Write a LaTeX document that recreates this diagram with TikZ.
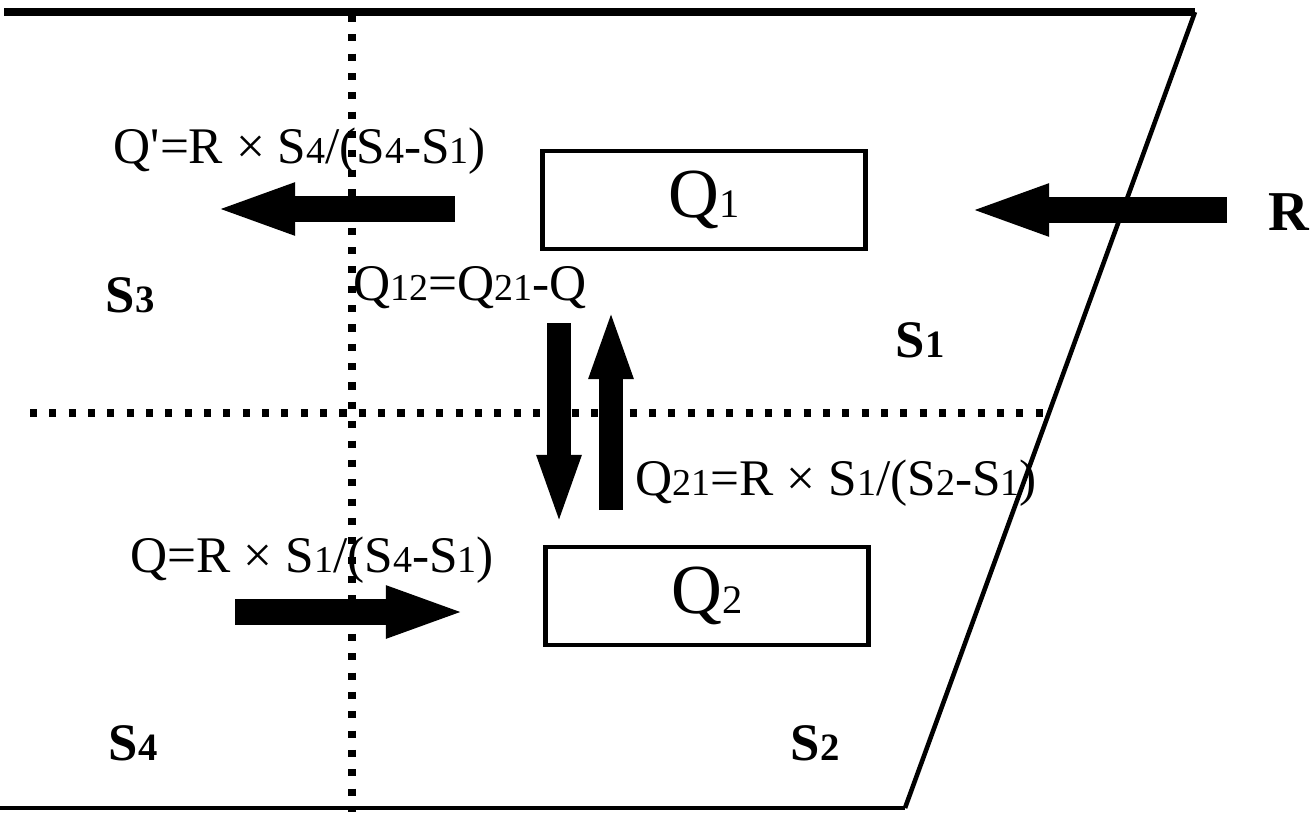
\documentclass[tikz,border=0pt]{standalone}
\usepackage{fontspec}
\setmainfont{LiberationSerif}[Extension=.ttf,UprightFont=*-Regular,BoldFont=*-Bold,ItalicFont=*-Italic,BoldItalicFont=*-BoldItalic]
\usetikzlibrary{arrows.meta}

\newcommand{\sub}[2][10.8]{{\fontsize{#1}{#1}\selectfont #2}}

\begin{document}
\begin{tikzpicture}[x=0.01cm,y=-0.01cm,
 box/.style={draw,line width=1.4pt,minimum width=3.22cm,minimum height=0.98cm,font=\rmfamily\fontsize{20}{20}\selectfont},
 lbl/.style={inner sep=0pt,anchor=base west,font=\rmfamily\fontsize{14.6}{14.6}\selectfont},
 zone/.style={inner sep=0pt,anchor=base west,font=\rmfamily\fontsize{15}{15}\selectfont\bfseries},
 grid/.style={line width=2pt,dash pattern=on 2pt off 3.5pt},
 flow/.style={line width=7.3pt,-{Triangle[length=8.2mm,width=4.6mm]}},
 vflow/.style={line width=6.6pt,-{Triangle[length=7.2mm,width=3.9mm]}}]
\useasboundingbox[fill=white] (0,0) rectangle (1315,812);
% channel outline
\draw[line width=2pt] (4,12) -- (1195,12);
\draw[line width=1.3pt] (1195,12) -- (905,808);
\draw[line width=1.4pt] (0,808) -- (905,808);
\draw[grid] (352,15) -- (352,812);
\draw[grid] (30,413) -- (1050,413);
% boxes
\node[box] (Q1) at (704,200) {Q\sub[11.5]{1}};
\node[box] (Q2) at (707,596) {Q\sub[11.5]{2}};
% zone labels
\node[zone] (S3) at (105,312) {S\sub[11]{3}};
\node[zone] (S1) at (895,357) {S\sub[11]{1}};
\node[zone] (S4) at (108,760) {S\sub[11]{4}};
\node[zone] (S2) at (790,760) {S\sub[11]{2}};
\node[zone,font=\rmfamily\fontsize{16}{16}\selectfont\bfseries] (R) at (1268,230) {R};
% flow labels
\node[lbl] (qout) at (113,163) {Q\textquotesingle=R × S\sub{4}/(S\sub{4}-S\sub{1})};
\node[lbl] (q12) at (353,300) {Q\sub{12}=Q\sub{21}-Q};
\node[lbl] (q21) at (635,495) {Q\sub{21}=R × S\sub{1}/(S\sub{2}-S\sub{1})};
\node[lbl] (qin) at (130,572) {Q=R × S\sub{1}/(S\sub{4}-S\sub{1})};
% flows
\coordinate (qoS) at (455,209); \coordinate (qoE) at (213,209);
\coordinate (rS) at (1227,210); \coordinate (rE) at (967,210);
\coordinate (dnS) at (559,323); \coordinate (dnE) at (559,527);
\coordinate (upS) at (611,510); \coordinate (upE) at (611,307);
\coordinate (inS) at (235,612); \coordinate (inE) at (468,612);
\draw[flow] (qoS) -- (qoE);
\draw[flow] (rS) -- (rE);
\draw[vflow] (dnS) -- (dnE);
\draw[vflow] (upS) -- (upE);
\draw[flow] (inS) -- (inE);
\end{tikzpicture}
\end{document}
